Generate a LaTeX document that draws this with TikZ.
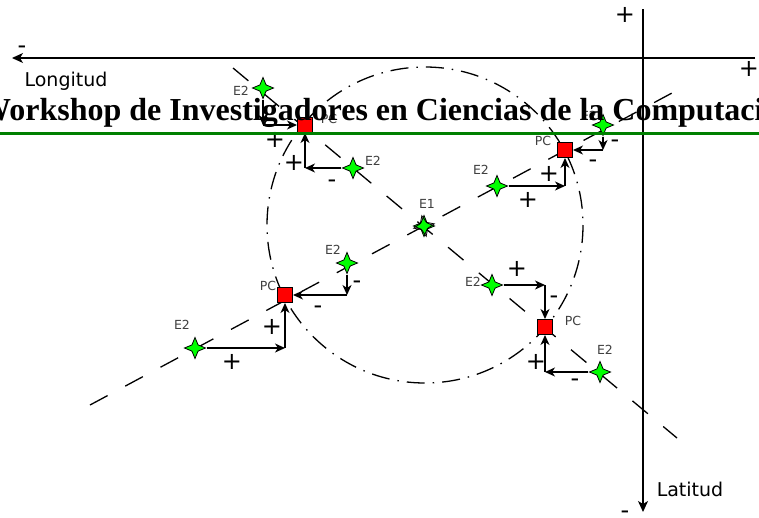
\documentclass[tikz,border=0pt]{standalone}
\usepackage{fontspec}
\setmainfont{DejaVu Sans}
\newfontfamily\headfont{Liberation Serif}
\usetikzlibrary{shapes.geometric,arrows.meta}
\begin{document}
\begin{tikzpicture}[x=1pt,y=-1pt,
  arr/.style={line width=1.3pt,-{Stealth[length=10pt,width=9pt,inset=3pt]}},
  axis/.style={line width=1.3pt,-{Stealth[length=11pt,width=10pt,inset=3pt]}},
  pcbox/.style={rectangle,draw=black,fill=red,line width=1pt,minimum size=15pt,inner sep=0pt},
  estar/.style={star,star points=4,star point ratio=2.4,draw=black,fill=green,line width=0.8pt,minimum size=21pt,inner sep=0pt},
  lbl/.style={font=\fontsize{12.5}{14}\selectfont,text=black!75,inner sep=0pt},
  sgn/.style={font=\fontsize{24}{26}\selectfont,inner sep=0pt},
  axlbl/.style={font=\fontsize{19}{22}\selectfont,inner sep=0pt},
  dline/.style={line width=1.3pt,dash pattern=on 20pt off 20pt},
  ddline/.style={line width=1.3pt,dash pattern=on 18pt off 8pt on 1.5pt off 8pt}]

\useasboundingbox (0,0) rectangle (759,517);
\clip (0,0) rectangle (759,517);
\fill[white] (0,0) rectangle (759,517);

% guide lines and circle
\coordinate (l1a) at (233,68);
\coordinate (l1b) at (677,438);
\coordinate (l2a) at (90,405);
\coordinate (l2b) at (672,93);
\coordinate (cc) at (425,225);
\draw[dline] (l1a) -- (l1b);
\draw[dline] (l2a) -- (l2b);
\draw[ddline] (cc) circle[radius=158];

% axes
\coordinate (hx1) at (755,58);
\coordinate (hx2) at (12,58);
\coordinate (vy1) at (643,9);
\coordinate (vy2) at (643,512);
\draw[axis] (hx1) -- (hx2);
\draw[axis] (vy1) -- (vy2);
\node[sgn] (am) at (22,50) {-};
\node[sgn] (ap1) at (625,15) {+};
\node[sgn] (ap2) at (749,69) {+};
\node[sgn] (am2) at (625,515) {-};
\node[axlbl] (lon) at (66,81) {Longitud};
\node[axlbl] (lat) at (690,489) {Latitud};

% PCs
\node[pcbox] (pc1) at (305,125) {};
\node[pcbox] (pc2) at (565,150) {};
\node[pcbox] (pc3) at (285,295) {};
\node[pcbox] (pc4) at (545,327) {};

% corners
\coordinate (k1a) at (263,125);
\coordinate (k1b) at (305,168);
\coordinate (k2a) at (565,186);
\coordinate (k2b) at (603,150);
\coordinate (k3a) at (347,295);
\coordinate (k3b) at (285,348);
\coordinate (k4a) at (545,285);
\coordinate (k4b) at (545,372);

% stars
\node[estar] (s1a) at (263,88) {};
\node[estar] (s1b) at (353,168) {};
\node[estar] (s2a) at (497,186) {};
\node[estar] (s2b) at (603,125) {};
\node[estar] (s3a) at (347,263) {};
\node[estar] (s3b) at (195,348) {};
\node[estar] (s4a) at (492,285) {};
\node[estar] (s4b) at (600,372) {};
\node[estar] (e1) at (424,226) {};
\node[estar,rotate=12,fill=none] (e1b) at (424,226) {};

% arrows
\draw[arr] (s1a) -- (k1a); \draw[arr] (k1a) -- (pc1);
\draw[arr] (s1b) -- (k1b); \draw[arr] (k1b) -- (pc1);
\draw[arr] (s2a) -- (k2a); \draw[arr] (k2a) -- (pc2);
\draw[arr] (s2b) -- (k2b); \draw[arr] (k2b) -- (pc2);
\draw[arr] (s3a) -- (k3a); \draw[arr] (k3a) -- (pc3);
\draw[arr] (s3b) -- (k3b); \draw[arr] (k3b) -- (pc3);
\draw[arr] (s4a) -- (k4a); \draw[arr] (k4a) -- (pc4);
\draw[arr] (s4b) -- (k4b); \draw[arr] (k4b) -- (pc4);

% labels
\node[lbl] (t1a) at (241,91) {E2};
\node[lbl] (t1b) at (373,161) {E2};
\node[lbl] (t2a) at (481,170) {E2};
\node[lbl] (t2b) at (589,116) {E2};
\node[lbl] (t3a) at (333,250) {E2};
\node[lbl] (t3b) at (182,325) {E2};
\node[lbl] (t4a) at (473,282) {E2};
\node[lbl] (t4b) at (605,350) {E2};
\node[lbl] (te1) at (427,204) {E1};
\node[lbl] (tp1) at (329,119) {PC};
\node[lbl] (tp2) at (543,141) {PC};
\node[lbl] (tp3) at (268,286) {PC};
\node[lbl] (tp4) at (573,321) {PC};

% signs
\node[sgn] at (275,140) {+};
\node[sgn] at (294,163) {+};
\node[sgn] at (332,184) {-};
\node[sgn] at (528,200) {+};
\node[sgn] at (549,174) {+};
\node[sgn] at (615,144) {-};
\node[sgn] at (593,164) {-};
\node[sgn] at (357,285) {-};
\node[sgn] at (318,310) {-};
\node[sgn] at (232,362) {+};
\node[sgn] at (272,327) {+};
\node[sgn] at (517,269) {+};
\node[sgn] at (554,300) {-};
\node[sgn] at (536,362) {+};
\node[sgn] at (575,383) {-};

% header
\node[anchor=base west,inner sep=0pt,font=\headfont\bfseries\fontsize{32}{35}\selectfont] (head) at (-21,120) {Workshop de Investigadores en Ciencias de la Computación};
\coordinate (g1) at (0,133);
\coordinate (g2) at (759,133);
\draw[line width=3pt,color={rgb,255:red,0;green,128;blue,0}] (g1) -- (g2);
\end{tikzpicture}
\end{document}
